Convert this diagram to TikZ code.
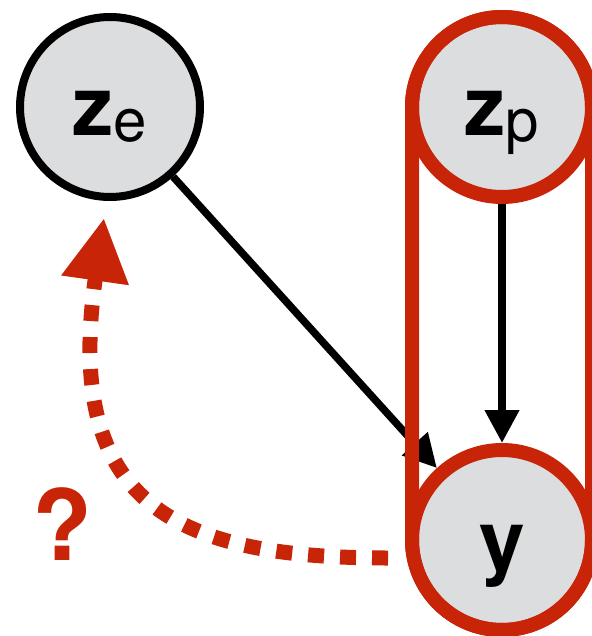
\documentclass[tikz,border=0pt]{standalone}
\usepackage{fontspec}
\setmainfont{TeX Gyre Heros}
\usetikzlibrary{arrows.meta}
\definecolor{nodegray}{RGB}{220,221,223}
\definecolor{pgmred}{RGB}{200,36,8}
\newcommand\lowsub[1]{\raisebox{-6pt}{\fontsize{60}{60}\selectfont\mdseries #1}}
\begin{document}
\begin{tikzpicture}[x=1pt,y=1pt,
  var/.style={circle, minimum size=180pt, inner sep=0pt, fill=nodegray,
    text height=73pt, text depth=15pt, font=\fontsize{82}{82}\selectfont\bfseries},
  latent/.style={var, draw=black, line width=8pt},
  plated/.style={var, draw=pgmred, line width=14pt},
  edge/.style={draw=black, line width=7.5pt, -{Triangle[length=33pt,width=33pt]}},
  plate/.style={draw=pgmred, line width=14pt},
  query/.style={draw=pgmred, line width=15pt, dash pattern=on 16pt off 16pt,
    -{Triangle[length=63pt,width=64pt]}},
  qmark/.style={font=\fontsize{98}{98}\selectfont\bfseries, text=pgmred, inner sep=0pt}
]
\useasboundingbox (0,0) rectangle (591,-636);
\node[latent] (zE) at (110,-107) {z\lowsub{e}};
\node[plated] (zP) at (502,-107) {z\lowsub{p}};
\node[plated] (y) at (502,-540) {y};
\node[qmark, anchor=base] (q) at (62,-560) {?};
\draw[edge] (zE) -- (y);
\draw[edge] (zP) -- (y);
\draw[plate] ([xshift=-90pt]zP.center) -- ([xshift=-90pt]y.center)
  arc[start angle=180, end angle=360, radius=90pt]
  -- ([xshift=90pt]zP.center)
  arc[start angle=0, end angle=180, radius=90pt] -- cycle;
\coordinate (qs) at (388,-558);
\coordinate (qe) at (104,-218);
\draw[query] (qs) .. controls (173,-558) and (63,-503) .. (qe);
\end{tikzpicture}
\end{document}
